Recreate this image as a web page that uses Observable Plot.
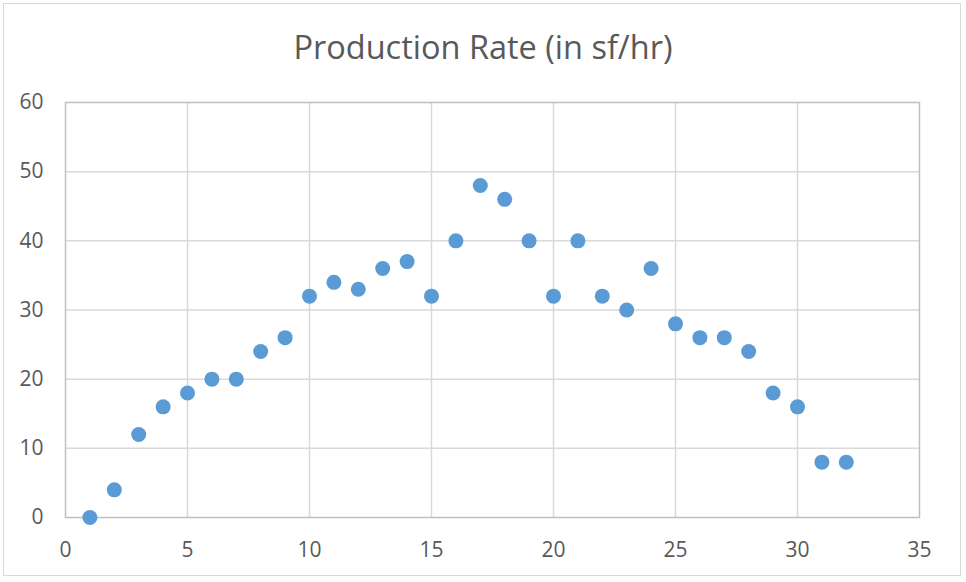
<!DOCTYPE html>
<html>
<head>
<meta charset="utf-8">
<script src="https://cdn.jsdelivr.net/npm/d3@7"></script>
<script src="https://cdn.jsdelivr.net/npm/@observablehq/plot@0.6"></script>
<style>
  html, body { margin: 0; padding: 0; background: #fff; }
  #wrap { position: relative; width: 966px; height: 582px; }
  #border { position: absolute; left: 3px; top: 3px; width: 958px; height: 573px; border: 1.5px solid #d9d9d9; box-sizing: border-box; pointer-events: none; }
  #title { position: absolute; left: 0; width: 966px; top: 27px; text-align: center; font-family: "Open Sans", sans-serif; font-size: 32.5px; color: #595959; line-height: 40px; white-space: nowrap; }
  svg { position: absolute; left: 0; top: 0; }
</style>
</head>
<body>
<div id="wrap">
  <div id="border"></div>
  <div id="title"></div>
</div>
<script>
const titleText = "Production Rate (in sf/hr)";
const xValues = [1,2,3,4,5,6,7,8,9,10,11,12,13,14,15,16,17,18,19,20,21,22,23,24,25,26,27,28,29,30,31,32];
const yValues = [0,4,12,16,18,20,20,24,26,32,34,33,36,37,32,40,48,46,40,32,40,32,30,36,28,26,26,24,18,16,8,8];
const xTicks = [0,5,10,15,20,25,30,35];
const yTicks = [0,10,20,30,40,50,60];

const data = xValues.map((x, i) => ({x, y: yValues[i]}));
document.getElementById("title").textContent = titleText;

const chart = Plot.plot({
  width: 966,
  height: 582,
  marginLeft: 65,
  marginRight: 47,
  marginTop: 102,
  marginBottom: 65,
  style: {fontFamily: "Open Sans, sans-serif", fontSize: "21px", background: "transparent", color: "#595959"},
  x: {domain: [0, 35], label: null},
  y: {domain: [0, 60], label: null},
  marks: [
    Plot.gridX(xTicks.slice(1, -1), {stroke: "#d9d9d9", strokeOpacity: 1, strokeWidth: 1.5}),
    Plot.gridY(yTicks.slice(1, -1), {stroke: "#d9d9d9", strokeOpacity: 1, strokeWidth: 1.5}),
    Plot.frame({stroke: "#bfbfbf", strokeWidth: 1.5}),
    Plot.axisX(xTicks, {tickSize: 0, tickPadding: 25, fill: "#595959", fontSize: 21, label: null}),
    Plot.axisY(yTicks, {tickSize: 0, tickPadding: 22, fill: "#595959", fontSize: 21, label: null}),
    Plot.dot(data, {x: "x", y: "y", r: 7.5, fill: "#5b9bd5", stroke: null})
  ]
});
document.getElementById("wrap").appendChild(chart);
</script>
</body>
</html>
